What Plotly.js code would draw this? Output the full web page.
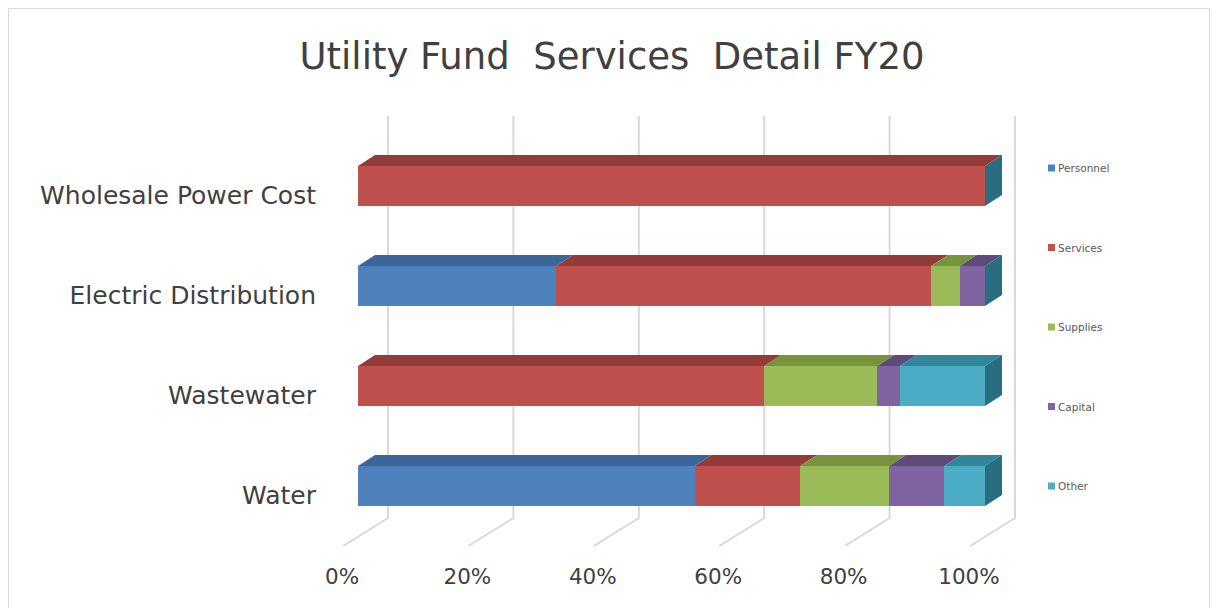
<!DOCTYPE html>
<html>
<head>
<meta charset="utf-8">
<script src="https://cdn.plot.ly/plotly-3.0.1.min.js"></script>
<style>
html,body{margin:0;padding:0;background:#fff;}
#wrap{position:relative;width:1212px;height:608px;}
#chart{width:1212px;height:608px;}
#frame{position:absolute;left:8px;top:8px;width:1202px;height:610px;border:1px solid #d9d9d9;pointer-events:none;box-sizing:border-box;}
</style>
</head>
<body>
<div id="wrap"><div id="chart"></div><div id="frame"></div></div>
<script>
// ---- data (bottom to top) ----
const categories = ['Water', 'Wastewater', 'Electric Distribution', 'Wholesale Power Cost'];
const personnel = [53.7, 0, 31.6, 0];
const services  = [16.8, 64.8, 59.8, 100];
const supplies  = [14.2, 18.0, 4.6, 0];
const capital   = [8.8, 3.6, 4.0, 0];
const other     = [6.5, 13.6, 0, 0];
const seriesNames = ['Personnel', 'Services', 'Supplies', 'Capital', 'Other'];
const tickValues = [0, 20, 40, 60, 80, 100];
const tickLabels = ['0%', '20%', '40%', '60%', '80%', '100%'];
const chartTitle = 'Utility Fund\u00A0 Services\u00A0 Detail FY20';

// ---- styles ----
const seriesData = [personnel, services, supplies, capital, other];
const frontColors = ['#4F81BD', '#C0504D', '#9BBB59', '#8064A2', '#4BACC6'];
const topColors   = ['#3C669A', '#923B39', '#77933C', '#5F4A7C', '#31869C'];
const sideColor = '#296E80';
const textColor = '#404040';
const font = '"DejaVu Sans", "Open Sans", sans-serif';

const W = 1212, H = 608;
const M = {l: 320, r: 182, t: 116, b: 62};
const plotW = W - M.l - M.r, plotH = H - M.t - M.b;
const pxPerX = 6.27, pxPerY = 100;
const xMin = -(358 - M.l) / pxPerX;
const xMax = xMin + plotW / pxPerX;
const yRange = [-0.6, 3.7];
const barW = 0.4;
const depthX = 17 / pxPerX, depthY = 11 / pxPerY;
const wallX = 30 / pxPerX, floorX = -15 / pxPerX, floorY = 28 / pxPerY;

const yIdx = categories.map((c, i) => i);

const traces = seriesNames.map((name, s) => ({
  type: 'bar', orientation: 'h', name: name,
  x: seriesData[s], y: yIdx, width: barW,
  marker: {color: frontColors[s], line: {width: 0}},
  showlegend: false, hoverinfo: 'x+name'
}));

const shapes = [];
const annotations = [];
// back wall grid lines + floor lines
tickValues.forEach(t => {
  const bx = t + wallX, fx = t + floorX;
  shapes.push({
    type: 'path', xref: 'x', yref: 'y', layer: 'below',
    path: `M ${bx},${yRange[1]} L ${bx},${yRange[0] + floorY} L ${fx},${yRange[0]}`,
    line: {color: '#d9d9d9', width: 2}
  });
});
// 3D top faces and side faces
yIdx.forEach(i => {
  let cum = 0;
  const yt = i + barW / 2, yb = i - barW / 2;
  seriesData.forEach((arr, s) => {
    const v = arr[i];
    if (v > 0) {
      const x0 = cum, x1 = cum + v;
      shapes.push({
        type: 'path', xref: 'x', yref: 'y', layer: 'above',
        path: `M ${x0},${yt} L ${x1},${yt} L ${x1 + depthX},${yt + depthY} L ${x0 + depthX},${yt + depthY} Z`,
        fillcolor: topColors[s], line: {width: 0}
      });
    }
    cum += v;
  });
  shapes.push({
    type: 'path', xref: 'x', yref: 'y', layer: 'above',
    path: `M ${cum},${yb} L ${cum},${yt} L ${cum + depthX},${yt + depthY} L ${cum + depthX},${yb + depthY} Z`,
    fillcolor: sideColor, line: {width: 0}
  });
});
// legend (small swatches, spread down the right side)
const legX = 1048, legTop = 168, legStep = 79.5, sw = 7;
const px2x = p => (p - M.l) / plotW;
const py2y = p => (H - M.b - p) / plotH;
seriesNames.forEach((name, s) => {
  const cy = legTop + s * legStep;
  shapes.push({
    type: 'rect', xref: 'paper', yref: 'paper',
    x0: px2x(legX), x1: px2x(legX + sw), y0: py2y(cy + sw / 2), y1: py2y(cy - sw / 2),
    fillcolor: frontColors[s], line: {width: 0}
  });
  annotations.push({
    xref: 'paper', yref: 'paper', x: px2x(legX + sw + 1), y: py2y(cy),
    xanchor: 'left', yanchor: 'middle', showarrow: false,
    text: name, font: {family: font, size: 10.5, color: '#595959'}
  });
});

const layout = {
  width: W, height: H,
  margin: M,
  paper_bgcolor: '#fff', plot_bgcolor: 'rgba(0,0,0,0)',
  barmode: 'stack', showlegend: false,
  font: {family: font, color: textColor},
  title: {
    text: chartTitle,
    font: {family: font, size: 37, color: textColor},
    x: 612 / W, xanchor: 'center', xref: 'container',
    y: 1 - 56 / H, yanchor: 'middle', yref: 'container'
  },
  xaxis: {
    range: [xMin, xMax], showgrid: false, zeroline: false, showline: false,
    tickvals: tickValues, ticktext: tickLabels, ticks: '',
    ticklabelshift: -16, ticklabelstandoff: 15,
    tickfont: {family: font, size: 21.5, color: textColor}, fixedrange: true
  },
  yaxis: {
    range: yRange, showgrid: false, zeroline: false, showline: false,
    tickvals: yIdx, ticktext: categories, ticks: '',
    ticklabelshift: 9, ticklabelstandoff: 3,
    tickfont: {family: font, size: 25, color: textColor}, fixedrange: true
  },
  shapes: shapes,
  annotations: annotations
};

Plotly.newPlot('chart', traces, layout, {displayModeBar: false, staticPlot: true});
</script>
</body>
</html>
